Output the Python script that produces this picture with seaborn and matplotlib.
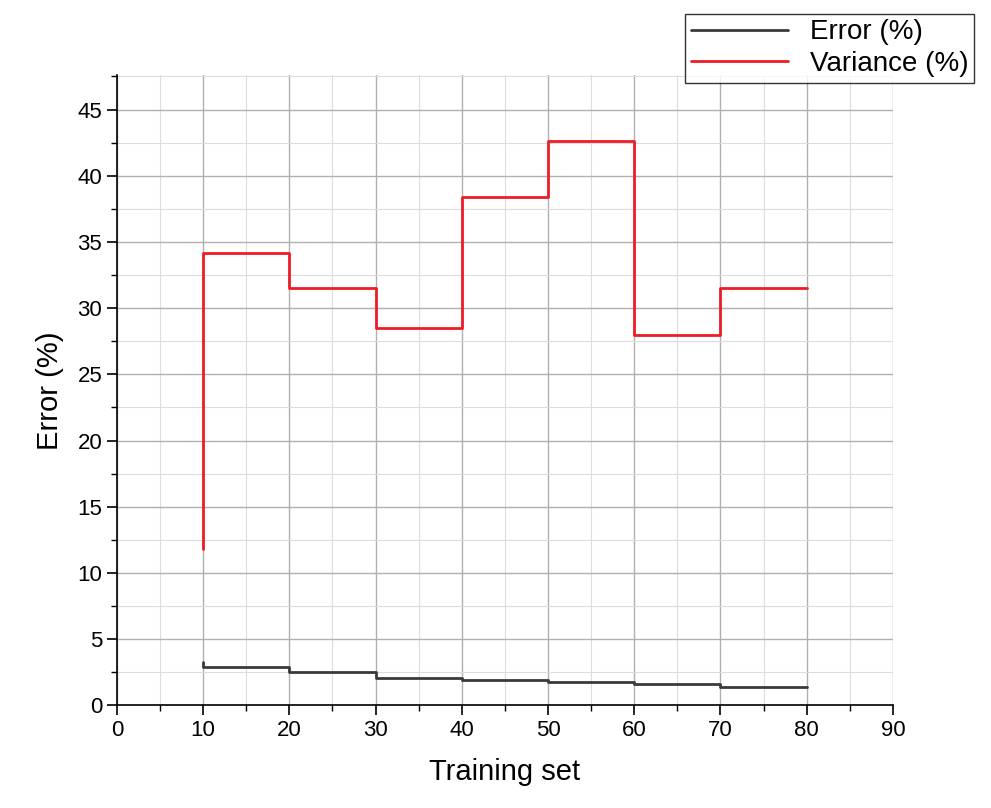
import matplotlib.pyplot as plt
import seaborn as sns
import pandas as pd
from matplotlib.ticker import MultipleLocator

training_set = [10, 10, 20, 30, 40, 50, 60, 70, 80]
error_pct = [3.3, 2.9, 2.5, 2.1, 1.9, 1.8, 1.6, 1.4, 1.4]
variance_pct = [11.8, 34.2, 31.5, 28.5, 38.4, 42.6, 28.0, 31.5, 31.5]

df = pd.DataFrame({
    "x": training_set * 2,
    "y": error_pct + variance_pct,
    "series": ["Error (%)"] * len(training_set) + ["Variance (%)"] * len(training_set),
})

sns.set_theme(style="white")
plt.rcParams['font.family'] = ['Liberation Sans', 'DejaVu Sans']
plt.rcParams['text.color'] = 'black'
plt.rcParams['axes.labelcolor'] = 'black'
plt.rcParams['xtick.color'] = 'black'
plt.rcParams['ytick.color'] = 'black'

fig = plt.figure(figsize=(9.91, 8.08), dpi=100)
ax = fig.add_axes([0.118, 0.127, 0.783, 0.780])

sns.lineplot(data=df, x="x", y="y", hue="series", palette=["#3a3a3a", "#ee1c25"],
             drawstyle="steps-post", linewidth=2, ax=ax, legend=False, sort=False,
             estimator=None, units="series")

ax.set_xlim(0, 90)
ax.set_ylim(0, 47.6)
ax.xaxis.set_major_locator(MultipleLocator(10))
ax.xaxis.set_minor_locator(MultipleLocator(5))
ax.yaxis.set_major_locator(MultipleLocator(5))
ax.yaxis.set_minor_locator(MultipleLocator(2.5))
ax.grid(True, which="major", color="#b0b0b0", lw=1)
ax.grid(True, which="minor", color="#dcdcdc", lw=0.8)
ax.set_axisbelow(True)
for s in ["top", "right"]:
    ax.spines[s].set_visible(False)
for s in ["left", "bottom"]:
    ax.spines[s].set_color("black")
    ax.spines[s].set_linewidth(1.2)
ax.tick_params(which="major", direction="out", length=7, width=1.2, labelsize=16, left=True, bottom=True)
ax.tick_params(which="minor", direction="out", length=4, width=1, left=True, bottom=True)
ax.set_xlabel("Training set", fontsize=21, labelpad=12)
ax.set_ylabel("Error (%)", fontsize=21, labelpad=10)

handles = [plt.Line2D([], [], color="#3a3a3a", lw=2), plt.Line2D([], [], color="#ee1c25", lw=2)]
fig.legend(handles, ["Error (%)", "Variance (%)"], loc="upper right", bbox_to_anchor=(0.997, 1.0),
           fontsize=20, frameon=True, fancybox=False, edgecolor="black", handlelength=3.5,
           borderpad=0.2, labelspacing=0.2)

fig.savefig("out.png", dpi=100)
